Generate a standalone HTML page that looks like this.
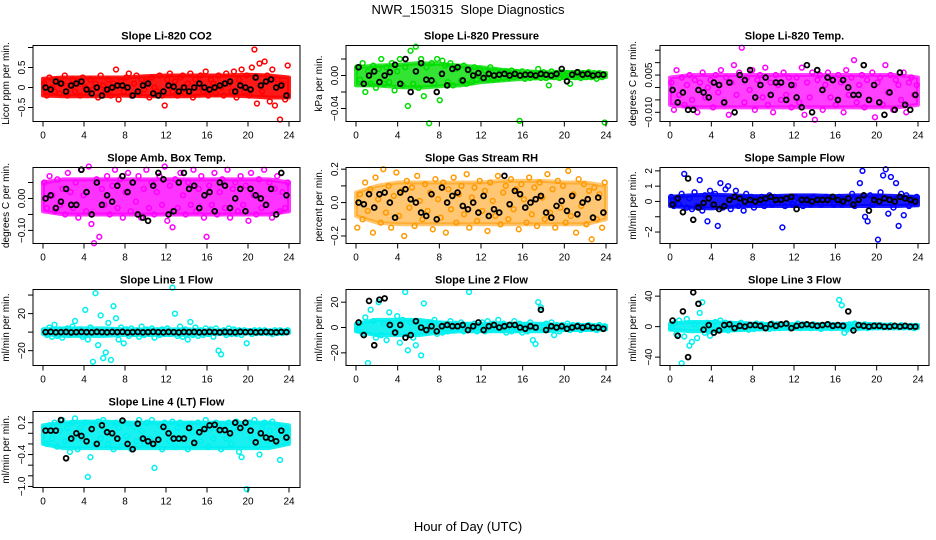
<!DOCTYPE html>
<html><head><meta charset="utf-8"><style>
html,body{margin:0;padding:0;background:#fff;}
svg{display:block;font-family:"Liberation Sans",sans-serif;}
</style></head><body>
<svg id="chart" width="936" height="540" viewBox="0 0 936 540" xmlns="http://www.w3.org/2000/svg">
<text x="468" y="14" text-anchor="middle" font-size="13">NWR_150315&#160; Slope Diagnostics</text>
<text x="468" y="531" text-anchor="middle" font-size="13">Hour of Day (UTC)</text>
</svg>
<script>
const xTicks = [0,4,8,12,16,20,24];
const bandHours = [0,2,4,6,8,10,12,14,16,18,20,22,24];
const titles = ["Slope Li-820 CO2","Slope Li-820 Pressure","Slope Li-820 Temp.","Slope Amb. Box Temp.","Slope Gas Stream RH","Slope Sample Flow","Slope Line 1 Flow","Slope Line 2 Flow","Slope Line 3 Flow","Slope Line 4 (LT) Flow"];
const yTitles = ["Licor ppm per min.","kPa per min.","degrees C per min.","degrees C per min.","percent per min.","ml/min per min.","ml/min per min.","ml/min per min.","ml/min per min.","ml/min per min."];
const seriesColors = ["#ff0000","#00dd00","#ff00ff","#ff00ff","#ff9900","#0000ff","#00f0f0","#00f0f0","#00f0f0","#00f0f0"];
const bandOpacity = [0.9,0.8,0.75,0.8,0.55,0.9,0.9,0.9,0.9,0.9];
const yDomains = [[-0.85,1.05],[-0.0558,0.0364],[-0.0137,0.0169],[-0.141,0.097],[-0.245,0.21],[-2.75,2.22],[-36,46],[-30,30],[-51,48.7],[-1.02,0.41]];
const yTickVals = [[-0.5,0,0.5,1.0],[-0.04,-0.02,0,0.02],[-0.01,-0.005,0,0.005,0.01,0.015],[-0.1,-0.05,0,0.05],[-0.2,-0.1,0,0.1,0.2],[-2,-1,0,1,2],[-20,0,20,40],[-20,0,20],[-40,0,40],[-1.0,-0.8,-0.6,-0.4,-0.2,0,0.2]];
const yTickLabels = [["-0.5","0","0.5",""],["-0.04","","0.00",""],["-0.010","","","0.005","",""],["-0.10","","0.00",""],["-0.2","","0.0","","0.2"],["-2","","0","1","2"],["-20","","20",""],["-20","0","20"],["-40","0","40"],["-1.0","","","-0.4","","","0.2"]];

const co2Lo=[-0.2,-0.22,-0.22,-0.22,-0.2,-0.22,-0.22,-0.22,-0.2,-0.2,-0.22,-0.25,-0.25];
const co2Hi=[0.22,0.25,0.25,0.25,0.25,0.28,0.3,0.3,0.3,0.3,0.32,0.3,0.25];
const presLo=[-0.012,-0.012,-0.014,-0.015,-0.013,-0.012,-0.008,-0.006,-0.004,-0.003,-0.003,-0.003,-0.002];
const presHi=[0.01,0.012,0.013,0.015,0.014,0.012,0.01,0.007,0.005,0.004,0.004,0.004,0.003];
const tempLo=[-0.007,-0.008,-0.008,-0.008,-0.008,-0.008,-0.008,-0.008,-0.008,-0.008,-0.008,-0.008,-0.007];
const tempHi=[0.004,0.005,0.005,0.005,0.005,0.005,0.005,0.005,0.005,0.005,0.005,0.005,0.004];
const ambLo=[-0.04,-0.05,-0.05,-0.05,-0.05,-0.05,-0.05,-0.05,-0.05,-0.05,-0.05,-0.05,-0.04];
const ambHi=[0.05,0.06,0.06,0.06,0.06,0.06,0.06,0.06,0.06,0.06,0.06,0.06,0.05];
const rhLo=[-0.08,-0.12,-0.13,-0.13,-0.13,-0.13,-0.13,-0.13,-0.13,-0.13,-0.13,-0.13,-0.1];
const rhHi=[0.06,0.1,0.12,0.12,0.12,0.12,0.12,0.13,0.13,0.13,0.12,0.12,0.1];
const sfLo=[-0.3,-0.4,-0.45,-0.35,-0.3,-0.3,-0.3,-0.3,-0.3,-0.3,-0.3,-0.3,-0.25];
const sfHi=[0.3,0.4,0.45,0.4,0.35,0.35,0.4,0.4,0.35,0.4,0.4,0.35,0.3];
const l1Lo=[-2,-4,-4,-4,-3,-3,-3,-3,-2,-2,-1.5,-1.5,-1];
const l1Hi=[3,4,4,4,3,3,3,3,2,2,2,1.5,1.5];
const l2Lo=[-3,-6,-6,-6,-4,-3,-3,-3,-3,-3,-2,-2,-1.5];
const l2Hi=[3,6,6,6,4,3,3,3,3,3,2,2,1.5];
const l3Lo=[-4,-6,-6,-5,-4,-3,-3,-3,-3,-3,-2,-2,-2];
const l3Hi=[4,6,6,5,4,3,3,3,3,4,3,2,2];
const l4Lo=[-0.2,-0.28,-0.28,-0.28,-0.28,-0.28,-0.28,-0.28,-0.28,-0.28,-0.28,-0.28,-0.2];
const l4Hi=[0.15,0.2,0.22,0.22,0.2,0.2,0.2,0.2,0.2,0.2,0.2,0.2,0.15];

const co2C=[0.1,-0.2,0.25,0,-0.1,0.2,-0.15,0.1,0.3,-0.2,0.05,0.2,-0.1,0.15,-0.2,0.25,0,-0.15,0.2,-0.05,0.1,-0.25,0.3,0.05,-0.1,0.2,-0.2,0.1,0.45,-0.3,0.15,-0.1,0.25,0.35,-0.2,0.1,0.3,-0.15,0.2,-0.05,0.15,-0.25,0.25,0,-0.1,0.3,-0.2,-0.45,0.2,0.35,-0.1,0.15,-0.2,0.25,0.3,-0.15,0.1,0.35,-0.25,0.2,0,0.3,-0.1,0.4,-0.2,0.2,0.1,-0.15,0.3,0,-0.2,0.35,0.1,-0.1,0.4,-0.25,0.2,0.45,-0.1,0.3,-0.2,0.5,0.95,-0.4,0.6,-0.1,0.65,0.3,-0.35,0.45,-0.45,0.2,-0.8,0.1,-0.3,0.55];
const co2K=[0,-0.05,0.15,0.1,-0.1,0.05,0.1,0.15,-0.05,-0.15,0,-0.2,-0.05,0,0.05,0.05,0,-0.2,-0.1,0.05,0.1,-0.15,-0.2,-0.1,0.05,0.02,-0.1,0,-0.1,0,0.1,0,-0.05,0,0.05,0.1,0.15,-0.1,0.05,0,-0.05,0.25,0.05,0.15,0.2,0,0.05,-0.2];
const presC=[0.01,-0.005,0.015,-0.02,0.005,-0.01,0.012,-0.015,0.008,0.02,-0.01,0.01,-0.008,0.015,-0.018,0.005,0.02,-0.012,0.01,-0.037,0.03,-0.01,0.035,-0.015,0.02,-0.025,0.01,-0.058,0.015,-0.01,0.02,-0.03,0.018,0.012,-0.008,0.015,-0.012,0.008,0.01,-0.006,0.012,-0.01,0.006,-0.008,0.01,-0.005,0.008,-0.004,0.006,-0.005,0.01,-0.005,0.006,-0.004,0.005,-0.003,0.005,-0.003,0.006,-0.002,0.004,-0.055,0.005,-0.004,0.004,-0.003,0.003,-0.002,0.008,-0.003,0.004,-0.003,-0.012,0.005,-0.002,0.003,-0.003,0.004,-0.002,0.003,-0.01,0.003,-0.002,0.004,-0.003,0.003,-0.002,0.004,-0.002,0.003,-0.004,0.003,-0.002,-0.057];
const presK=[0.01,-0.01,0,0.005,-0.008,0,0.004,0.013,-0.01,0.02,-0.02,0.005,0.015,-0.005,-0.006,-0.02,0.002,-0.012,0.008,0.01,-0.006,0.007,0,0.003,-0.003,0.002,0,0.001,0.002,0,0.002,0,0.001,0.001,0,0.002,0.001,0,0.002,0.008,-0.007,0.001,0.004,0.001,0.002,0,0.001,0.001];
const tempC=[0.002,-0.009,0.007,-0.003,0.004,-0.007,0.001,0.005,-0.005,0.003,-0.01,0.002,0.006,-0.004,0,0.003,-0.008,0.005,-0.002,0.007,-0.006,0.004,-0.011,0.002,0.009,-0.003,0.006,0.016,-0.006,0.004,-0.001,0.007,-0.009,0.003,0.005,-0.004,0.008,-0.007,0.002,-0.01,0.005,0.001,-0.005,0.006,-0.003,0.004,-0.008,0.001,0.004,-0.006,0.008,-0.011,0.002,-0.004,0.006,-0.013,0.003,0.005,-0.009,0.001,0.006,-0.004,0.003,-0.007,0.005,0.002,-0.01,0.007,-0.003,0.004,0.011,-0.006,0.001,0.005,-0.008,0.003,-0.005,0.006,-0.012,0.002,0.004,-0.007,0.009,-0.002,0.005,-0.009,0.003,0.001,-0.005,0.006,-0.01,0.002,0.004,-0.003,0.001];
const tempK=[-0.001,-0.006,-0.002,-0.009,-0.009,-0.001,-0.002,-0.004,0.002,0.001,-0.006,0.002,-0.01,0.005,0.003,0.007,-0.004,0.001,0.004,-0.003,0.002,0.002,-0.005,0.001,-0.004,-0.008,0.009,-0.01,0.007,-0.001,0.004,0.003,-0.005,0.003,0,-0.003,-0.003,0.009,-0.005,0.001,-0.006,-0.011,-0.002,-0.009,0.006,-0.007,-0.009,-0.003];
const ambC=[0.05,-0.03,0.07,0.01,-0.04,0.06,-0.02,0.03,-0.05,0.08,0.02,-0.03,0.05,-0.06,0.09,0.01,-0.04,0.1,-0.08,-0.14,0.06,-0.12,0.03,-0.02,0.07,-0.05,0.04,0.09,-0.03,0.06,-0.06,0.02,0.08,-0.04,0.05,-0.01,0.07,-0.06,0.03,0.09,-0.03,0.05,-0.05,0.02,0.07,-0.02,0.1,-0.07,0.04,-0.09,0.06,-0.03,0.08,0.01,-0.05,0.05,-0.02,0.09,-0.04,0.03,0.07,-0.06,-0.12,0.04,-0.02,0.08,-0.05,0.02,0.06,-0.03,0.09,-0.06,0.03,0.05,-0.04,0.07,-0.02,0.04,-0.07,0.08,0.01,-0.05,0.06,-0.03,0.09,-0.02,0.05,-0.06,0.03,0.07,-0.04,0.02,-0.03,0.05];
const ambK=[0,0.01,-0.03,-0.01,0.03,-0.02,-0.02,0.09,0.02,-0.05,0.05,-0.02,0.01,-0.01,0.04,0.07,0.02,0.05,-0.05,-0.06,-0.07,0.04,0.08,0.06,-0.05,-0.04,0.05,0.08,0.03,0.04,-0.03,0.01,0.02,-0.04,0.05,0.04,-0.03,0,0.03,-0.04,0.03,0.01,0,-0.02,0.03,-0.05,0.08,0.01];
const rhC=[-0.15,0.05,-0.1,0.12,-0.05,0.08,-0.18,0.15,0.02,-0.12,0.2,-0.06,0.1,-0.15,0.04,0.18,-0.08,0.07,-0.2,0.13,-0.03,0.09,-0.14,0.16,0.01,-0.1,0.11,-0.05,0.06,-0.16,0.14,0.02,-0.09,0.12,-0.18,0.08,-0.04,0.15,-0.12,0.05,0.1,-0.07,0.17,-0.15,0.03,0.09,-0.11,0.13,-0.05,0.07,-0.17,0.12,0.01,-0.08,0.16,-0.13,0.06,0.1,-0.1,0.14,-0.04,0.08,-0.16,0.11,0.02,-0.12,0.15,-0.07,0.09,-0.14,0.12,0.03,-0.1,0.17,-0.06,0.08,-0.15,0.13,-0.03,0.1,-0.12,0.19,-0.08,0.05,-0.18,0.14,-0.02,0.11,-0.13,0.07,-0.22,0.09,-0.1,0.05,-0.15,0.12];
const rhK=[0,-0.01,0.05,-0.03,0.05,0.06,0,-0.09,0.06,0.08,0.02,0,-0.06,-0.08,0.05,-0.1,0.09,0,0.04,0.06,-0.02,-0.04,0,-0.06,0.04,-0.08,-0.04,-0.06,0.16,-0.01,0.07,0.05,-0.03,0,0.02,0.04,-0.06,-0.09,-0.02,0.01,-0.05,0.04,-0.07,0,0.02,-0.09,0.03,-0.06];
const sfC=[0.3,-0.3,0.1,-0.2,0.5,1.8,-0.4,0.2,-0.5,0.6,-0.3,1.4,-0.6,0.4,-1.3,0.7,-0.2,0.5,-1.6,1.2,-0.4,0.8,1.0,-0.5,0.3,0.7,-0.3,0.2,-0.6,0.5,-0.2,0.3,-0.4,0.2,-0.1,0.3,-0.3,0.1,0.4,-0.2,0.3,-0.1,0.2,-1.7,-0.3,0.2,0.1,-0.2,0.3,-0.1,0.2,-0.3,0.1,0.2,-0.2,0.3,-0.1,0.2,-0.2,0.1,0.3,-0.1,0.2,-0.2,0.1,0.3,-0.2,0.1,-0.1,0.2,0.5,-0.3,0.2,1.2,2.0,-1.0,-1.3,0.4,-0.2,0.3,-2.5,0.6,1.7,2.1,-0.8,1.6,-0.4,1.2,-1.6,0.5,-0.9,0.4,-0.3,0.2,-0.1,0.3];
const sfK=[-0.2,0.2,-0.7,1.5,-1.2,-0.4,-0.1,0.2,-0.2,-0.5,-0.3,0.1,0.3,0.2,0,0.1,0,0.1,0.2,0.3,0.1,0.1,0.2,0.3,-0.5,0.1,0.1,0,0.1,0.1,0.1,0.3,0.1,0,0.2,-0.2,0.1,0.4,-0.6,0.1,0,0.2,0.1,0,0.3,0.2,0.1,0];
const l1C=[2,-3,5,-5,8,-4,3,-6,2,4,-3,6,12,-2,3,-5,24,-8,5,-32,42,-14,18,-28,-22,10,-30,28,15,-8,5,-12,3,-4,4,-2,2,-5,6,-3,3,-2,4,-6,2,-3,3,-2,4,-2,48,20,-4,6,-5,3,-8,11,-3,5,-4,2,-3,4,-2,3,-5,4,-20,-24,2,-3,4,-2,3,-2,2,-3,2,-12,1,-2,2,-1,2,-1,2,-1,1,-2,2,-1,2,-1,1,2];
const l1K=[0,0.3,-0.2,0,0.2,-0.3,0,0.2,0,-0.2,0.3,0,-0.2,0.2,0,0.3,-0.3,0,0.2,-0.2,0,0.3,0,-0.2,0.2,0,-0.3,0.2,0,0.2,-0.2,0,0.3,0,-0.2,0.2,0,-0.2,0.3,0,0.2,-0.2,0,0.2,0,-0.2,0.2,0];
const l2C=[-2,3,-5,8,-28,14,5,-8,20,-6,3,-10,12,2,-4,9,-12,6,28,-18,4,-8,-14,5,-22,19,-3,4,-2,6,-5,3,-4,2,-3,5,-2,3,-1,4,-3,2,28,-2,3,-3,2,4,-3,5,-2,3,-1,6,-2,3,-4,2,-3,5,-2,3,-4,2,-3,4,-10,-13,20,16,-2,3,-2,4,-6,2,-3,2,-1,3,-2,2,-1,2,-2,1,-1,2,-1,1,-2,2,-1,1];
const l2K=[4,-6,21,-14,22,23,2,-4,2,-8,-6,5,0,-2,1,-3,1,2,1,1,2,-2,1,4,-2,1,2,0,1,2,2,0,-1,1,0,14,-2,1,0,1,-1,0,1,0,1,0,0,-1];
const l3C=[-2,4,-10,8,-48,-13,10,-25,-20,3,-15,18,32,-8,5,-12,2,6,-4,8,-3,5,-5,4,-2,3,-3,5,-2,3,-4,2,-3,4,-2,3,-1,2,-3,4,-2,3,-2,2,-1,3,-2,2,-1,4,-2,3,-1,2,-2,3,-1,2,-3,2,-1,3,-2,2,-1,35,28,-8,-4,3,-2,4,-2,2,-1,3,-2,2,-1,2,-1,2,-1,1,-1,2,-1,1,-1,2,-1,1,-1,1,-2,1];
const l3K=[8,-12,20,-40,45,30,-4,2,-8,-5,2,3,-2,1,0,2,2,1,-2,3,1,3,4,-2,1,2,3,2,1,2,3,1,2,1,20,-5,2,1,0,1,1,0,0,1,0,1,0,0];
const l4C=[0.1,-0.2,0.15,-0.1,0.2,-0.25,0.05,0.25,-0.15,0.1,-0.35,0.2,0.28,-0.3,0.1,-0.1,0.2,-0.82,-0.45,0.15,-0.2,0.22,-0.1,0.25,0.05,-0.2,0.15,-0.3,0.2,0.1,-0.25,0.22,-0.05,0.18,-0.3,0.12,-0.15,0.25,0.05,-0.2,0.2,-0.1,0.25,-0.65,-0.2,0.15,-0.3,0.2,0.05,-0.15,0.22,-0.25,0.1,0.2,-0.1,0.15,-0.3,0.18,0.02,-0.2,0.2,-0.15,0.12,0.25,-0.25,0.1,-0.1,0.2,0.05,-0.3,0.15,-0.1,0.2,-0.2,0.1,0.22,-0.35,-0.45,0.15,-1.05,0.2,-0.1,0.25,-0.25,-0.4,0.1,0.2,-0.15,0.05,0.22,-0.2,0.15,-0.5,0.1,-0.1,0.05];
const l4K=[0.05,0.05,0.05,0.25,-0.47,-0.1,0,-0.05,-0.15,0.08,-0.2,0.15,0.02,0,-0.1,0.24,-0.2,-0.3,0.18,-0.1,-0.15,-0.2,-0.12,0.12,0,-0.1,-0.1,-0.1,0.1,-0.18,0.02,0.08,0.15,0.16,0.06,0.06,0,0.2,0.1,0.2,0.05,-0.17,0,-0.08,-0.1,-0.15,0.05,-0.08];

const coloredSeries=[co2C,presC,tempC,ambC,rhC,sfC,l1C,l2C,l3C,l4C];
const blackSeries=[co2K,presK,tempK,ambK,rhK,sfK,l1K,l2K,l3K,l4K];
const bandLows=[co2Lo,presLo,tempLo,ambLo,rhLo,sfLo,l1Lo,l2Lo,l3Lo,l4Lo];
const bandHighs=[co2Hi,presHi,tempHi,ambHi,rhHi,sfHi,l1Hi,l2Hi,l3Hi,l4Hi];

const NS="http://www.w3.org/2000/svg";
const svg=document.getElementById('chart');
const colX0=[43,356,670], colX24=[289,606,918];
const rowTop=[45.5,167.5,289.5,411.5], boxH=76;
function mk(tag,attrs,parent){const e=document.createElementNS(NS,tag);for(const k in attrs)e.setAttribute(k,attrs[k]);(parent||svg).appendChild(e);return e;}

for(let p=0;p<10;p++){
  const col=p%3,row=Math.floor(p/3);
  const x0=colX0[col],x24=colX24[col];
  const left=x0-10,right=x24+11,top=rowTop[row],bottom=top+boxH;
  const [dmin,dmax]=yDomains[p];
  const xs=t=>x0+(x24-x0)*t/24;
  const ys=v=>bottom-(v-dmin)/(dmax-dmin)*boxH;
  const g=mk('g',{});
  
  
  const ttl=mk('text',{x:(left+right)/2,y:top-6,'text-anchor':'middle','font-size':11,'font-weight':'bold'},g);
  ttl.textContent=titles[p];
  
  
  const yt=mk('text',{transform:`translate(${left-24},${(top+bottom)/2}) rotate(-90)`,'text-anchor':'middle','font-size':10},g);
  yt.textContent=yTitles[p];
  
  
  // dense point cloud band
  const lo=bandLows[p],hi=bandHighs[p];
  let pts=bandHours.map((t,i)=>`${xs(t)},${ys(hi[i])}`);
  for(let i=bandHours.length-1;i>=0;i--)pts.push(`${xs(bandHours[i])},${ys(lo[i])}`);
  const band=mk('polygon',{points:pts.join(' '),fill:seriesColors[p],'fill-opacity':bandOpacity[p],stroke:seriesColors[p],'stroke-width':4,'stroke-linejoin':'round','stroke-opacity':bandOpacity[p]},g);
  
  
  const cs=coloredSeries[p];
  cs.forEach((v,i)=>{
    const c=mk('circle',{cx:xs((i+0.5)*24/cs.length),cy:ys(v),r:2.4,fill:'none',stroke:seriesColors[p],'stroke-width':1.5},g);
    
    
  });
  const ks=blackSeries[p];
  ks.forEach((v,i)=>{
    const c=mk('circle',{cx:xs((i+0.5)*24/ks.length),cy:ys(v),r:2.4,fill:'none',stroke:'#000','stroke-width':1.8},g);
    
    
  });
  const box=mk('rect',{x:left,y:top,width:right-left,height:boxH,fill:'none',stroke:'#000','stroke-width':1},g);
  
  
  xTicks.forEach(t=>{
    mk('line',{x1:xs(t),x2:xs(t),y1:bottom,y2:bottom+5,stroke:'#000'},g);
    const tl=mk('text',{x:xs(t),y:bottom+17,'text-anchor':'middle','font-size':10},g);
    tl.textContent=t;
    
    
  });
  yTickVals[p].forEach((v,i)=>{
    const y=ys(v);
    mk('line',{x1:left-5,x2:left,y1:y,y2:y,stroke:'#000'},g);
    const lab=yTickLabels[p][i];
    if(lab){
      const tl=mk('text',{transform:`translate(${left-8},${y}) rotate(-90)`,'text-anchor':'middle','font-size':10},g);
      tl.textContent=lab.replace('-','\u2212');
      
      
    }
  });
}
</script>
</body></html>
